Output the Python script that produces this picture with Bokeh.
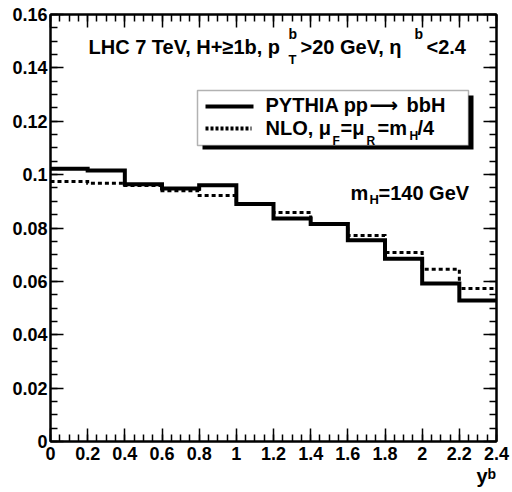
import numpy as np
from bokeh.plotting import figure
from bokeh.models import Range1d, FixedTicker, LinearAxis, BoxAnnotation
from bokeh.core.properties import value
from bokeh.embed import file_html
from bokeh.resources import INLINE

# ---------------- data ----------------
bin_edges = [0.0, 0.2, 0.4, 0.6, 0.8, 1.0, 1.2, 1.4, 1.6, 1.8, 2.0, 2.2, 2.4]
pythia = [0.1022, 0.1015, 0.0964, 0.0948, 0.0960, 0.0890, 0.0836, 0.0815, 0.0754, 0.0685, 0.0592, 0.0528]
nlo = [0.0974, 0.0968, 0.0959, 0.0940, 0.0922, 0.0891, 0.0858, 0.0816, 0.0772, 0.0708, 0.0645, 0.0573]

x_ticks = [0.0, 0.2, 0.4, 0.6, 0.8, 1.0, 1.2, 1.4, 1.6, 1.8, 2.0, 2.2, 2.4]
x_tick_labels = ["0", "0.2", "0.4", "0.6", "0.8", "1", "1.2", "1.4", "1.6", "1.8", "2", "2.2", "2.4"]
y_ticks = [0.0, 0.02, 0.04, 0.06, 0.08, 0.1, 0.12, 0.14, 0.16]
y_tick_labels = ["0", "0.02", "0.04", "0.06", "0.08", "0.1", "0.12", "0.14", "0.16"]

FONT = "Liberation Sans"

# ---------------- figure ----------------
W, H = 512, 492
L, R, T, B = 50, 16, 14, 51
p = figure(width=W, height=H, output_backend="svg", toolbar_location=None,
           x_range=Range1d(0, 2.4), y_range=Range1d(0, 0.16),
           min_border_left=L, min_border_right=R, min_border_top=T, min_border_bottom=B,
           x_axis_type=None, y_axis_type=None)
p.grid.visible = False
p.outline_line_color = "black"
p.outline_line_width = 2
p.background_fill_color = "white"
p.border_fill_color = "white"

FW = W - L - R
FH = H - T - B


def px_x(px):
    return (px - L) / FW * 2.4


def px_y(py):
    return (T + FH - py) / FH * 0.16


x_minor = list(np.round(np.arange(0, 2.4001, 0.05), 4))
y_minor = list(np.round(np.arange(0, 0.16001, 0.005), 5))
xticker = FixedTicker(ticks=x_ticks, minor_ticks=x_minor)
yticker = FixedTicker(ticks=y_ticks, minor_ticks=y_minor)


def style_axis(ax, show_labels):
    ax.axis_line_color = "black"
    ax.axis_line_width = 2
    ax.major_tick_in = 13
    ax.major_tick_out = 0
    ax.minor_tick_in = 7
    ax.minor_tick_out = 0
    ax.major_tick_line_color = "black"
    ax.minor_tick_line_color = "black"
    ax.major_tick_line_width = 1.5
    ax.minor_tick_line_width = 1.5
    if show_labels:
        ax.major_label_text_font = FONT
        ax.major_label_text_font_style = "bold"
        ax.major_label_text_font_size = "18px"
        ax.major_label_text_color = "black"
    else:
        ax.major_label_text_font_size = "0px"
        ax.major_label_standoff = 0


xb = LinearAxis(ticker=xticker,
                major_label_overrides={t: s for t, s in zip(x_ticks, x_tick_labels)})
style_axis(xb, True)
xb.major_label_standoff = 5
p.add_layout(xb, "below")

yl = LinearAxis(ticker=yticker,
                major_label_overrides={t: s for t, s in zip(y_ticks, y_tick_labels)})
style_axis(yl, True)
yl.major_label_standoff = 3
p.add_layout(yl, "left")

xt = LinearAxis(ticker=xticker)
style_axis(xt, False)
p.add_layout(xt, "above")

yr = LinearAxis(ticker=yticker)
style_axis(yr, False)
p.add_layout(yr, "right")

# ---------------- histograms ----------------
p.step(x=bin_edges, y=nlo + [nlo[-1]], mode="after", line_color="black",
       line_width=3, line_dash="4 3", line_join="miter")
p.step(x=bin_edges, y=pythia + [pythia[-1]], mode="after", line_color="black",
       line_width=4, line_join="miter")


# ---------------- texts ----------------
def txt(xp, yp, s, size, font=FONT):
    yb = yp - 0.27 * size  # compensate for renderer baseline offset
    p.text(x=[px_x(xp)], y=[px_y(yb)], text=[s], text_font=value(font),
           text_font_style="bold", text_font_size=value(f"{size}px"),
           text_baseline="alphabetic", text_align="left", text_color="black",
           level="overlay")


# header
txt(88, 52, "LHC 7 TeV, H+\u22651b, p", 20)
txt(288, 37, "b", 14)
txt(288, 63, "T", 13)
txt(300, 52, ">20 GeV, \u03b7", 20)
txt(414, 37, "b", 14)
txt(426, 52, "<2.4", 20)

# legend box with shadow
p.add_layout(BoxAnnotation(left=px_x(202), right=px_x(473), top=px_y(95), bottom=px_y(149),
                           fill_color="black", fill_alpha=1, line_color=None))
p.add_layout(BoxAnnotation(left=px_x(197), right=px_x(468), top=px_y(90), bottom=px_y(145),
                           fill_color="white", fill_alpha=1, line_color="black", line_width=1.5))
p.segment(x0=[px_x(205)], y0=[px_y(106)], x1=[px_x(253)], y1=[px_y(106)],
          line_color="black", line_width=4, level="overlay")
p.segment(x0=[px_x(205)], y0=[px_y(128)], x1=[px_x(251)], y1=[px_y(128)],
          line_color="black", line_width=4, line_dash="3 2", level="overlay")

txt(265, 110, "PYTHIA pp", 20)
txt(369, 110, "\u27f6", 20, "DejaVu Sans")
txt(406, 110, "bbH", 20)
txt(265, 133, "NLO, \u03bc", 20)
txt(332, 144, "F", 12)
txt(340, 133, "=\u03bc", 20)
txt(366, 144, "R", 12)
txt(377, 133, "=m", 20)
txt(409, 139, "H", 12)
txt(417, 133, "/4", 20)

# m_H label
txt(350, 198, "m", 20)
txt(369, 203, "H", 13)
txt(378, 198, "=140 GeV", 20)

# x-axis title
txt(476, 481, "y", 20)
txt(487, 477, "b", 14)

open("out.html", "w").write(file_html(p, INLINE))
